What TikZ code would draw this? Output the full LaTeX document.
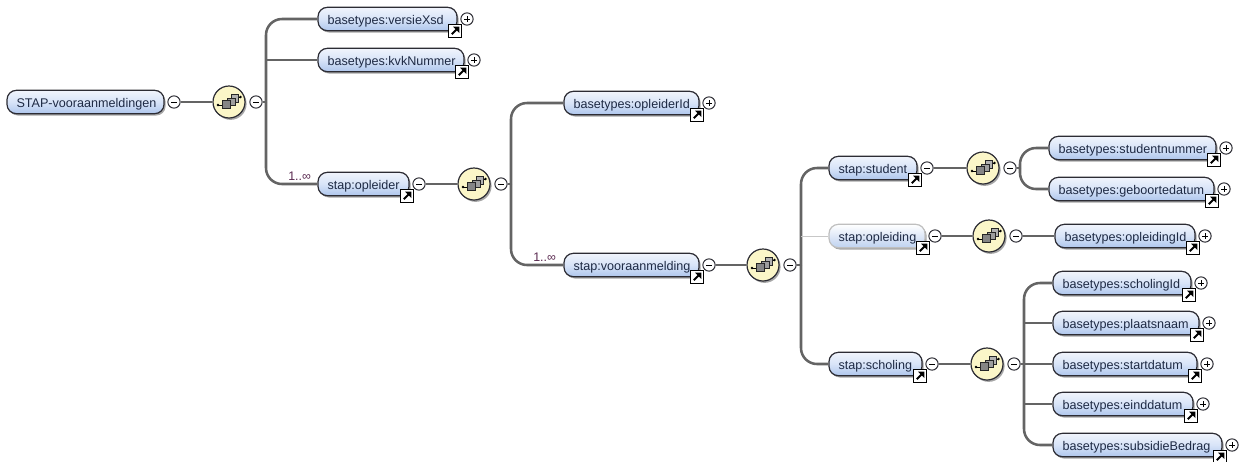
\documentclass[tikz,border=0pt]{standalone}
\usepackage{fontspec}
\setmainfont{Liberation Sans}
\usetikzlibrary{shadows}
\definecolor{wirec}{HTML}{646464}
\definecolor{edgec}{HTML}{2C2C34}
\definecolor{txtc}{HTML}{1E2A44}
\definecolor{multc}{HTML}{5A2A50}
\definecolor{boxtop}{HTML}{F0F4FC}
\definecolor{boxmid}{HTML}{D8E4F8}
\definecolor{boxbot}{HTML}{AEC6EC}
\definecolor{seqfill}{HTML}{FBF6C8}
\tikzset{
  x=0.75pt,y=-0.75pt,
  wire/.style={draw=wirec,line width=1.9pt},
  bendwire/.style={wire,rounded corners=12pt},
  thinwire/.style={draw=black!22,line width=0.5pt},
  elem/.style={draw=edgec,line width=0.9pt,rounded corners=7pt,top color=boxtop,bottom color=boxbot,middle color=boxmid,
    text=txtc,font=\fontsize{9.45pt}{11pt}\selectfont,inner sep=0pt,minimum height=17.5pt,text height=8.5pt,text depth=1pt,align=left,
    drop shadow={shadow xshift=1.2pt,shadow yshift=-1.4pt,fill=black,opacity=0.35}},
  ghost/.style={elem,draw=black!25,top color=white,middle color=boxtop,bottom color=boxbot!80!white},
  signbox/.style={circle,draw=edgec,fill=white,line width=0.75pt,minimum size=9.2pt,inner sep=0pt},
  linkbox/.style={draw=black,fill=white,line width=0.9pt,minimum size=9.2pt,inner sep=0pt,
    path picture={\draw[black,line width=1.4pt] (path picture bounding box.south west)++(2.2pt,2.2pt) -- ++(3.6pt,3.6pt);
      \fill[black] (path picture bounding box.north east)++(-1.3pt,-1.3pt) -- ++(-4.8pt,0pt) -- ++(4.8pt,-4.8pt) -- cycle;}},
  seqc/.style={circle,draw=edgec,fill=seqfill,line width=0.9pt,minimum size=24pt,inner sep=0pt,
    drop shadow={shadow xshift=1.2pt,shadow yshift=-1.4pt,fill=black,opacity=0.35}},
  sq/.style={draw=black!85,line width=0.45pt},
  mult/.style={text=multc,font=\fontsize{9.3pt}{11pt}\selectfont,inner sep=0pt},
}
% \elemnolink{name}{x0}{x1}{yc}{label}{sign}{style}
\newcommand{\elemnolink}[7]{%
  \node[#7,minimum width={(#3-#2)*0.75pt},text width={(#3-#2-19)*0.75pt}] (#1) at ({(#2+#3)/2},#4) {\rlap{#5}};
  \node[signbox] (#1s) at ({#3+10},#4) {};
  \draw[black,line width=0.6pt] ({#3+10-3},#4) -- ({#3+10+3},#4);
  \if#6+\draw[black,line width=0.6pt] ({#3+10},{#4-3}) -- ({#3+10},{#4+3});\fi
}
\newcommand{\elem}[7]{%
  \elemnolink{#1}{#2}{#3}{#4}{#5}{#6}{#7}
  \node[linkbox] (#1l) at ({#3-2},{#4+12}) {};
}
% \seq{name}{x}{y}
\newcommand{\seq}[3]{%
  \node[seqc] (#1) at (#2,#3) {};
  \begin{scope}[shift={(#2,#3)}]
    \draw[black,line width=0.6pt] (-11,3) -- (-6,3) (8,-5) -- (11.5,-5);
    \fill[black] (-11,3) circle (1.1pt) (11.5,-5) circle (1.1pt);
    \draw[sq,fill=black!30] (2,-8) rectangle (9.5,0);
    \draw[sq,fill=black!38] (-2,-4) rectangle (6,3);
    \draw[sq,fill=black!48] (-6.5,-2) rectangle (1.5,6);
  \end{scope}
  \node[signbox] (#1s) at ({#2+27},#3) {};
  \draw[black,line width=0.6pt] ({#2+27-3},#3) -- ({#2+27+3},#3);
}
\begin{document}
\begin{tikzpicture}
\useasboundingbox (0,0) rectangle (1241,461);
\coordinate (t1) at (266,102);
\coordinate (t2) at (511,184);
\coordinate (t3) at (801,265);
\coordinate (t4) at (1020,168);
\coordinate (t5) at (1024,364);

\elemnolink{root}{7}{164}{102}{STAP-vooraanmeldingen}{-}{elem}
\seq{c1}{229}{102}
\elem{versie}{318}{457}{19}{basetypes:versieXsd}{+}{elem}
\elem{kvk}{318}{464}{60}{basetypes:kvkNummer}{+}{elem}
\elem{opleider}{318}{409}{184}{stap:opleider}{-}{elem}
\seq{c2}{474}{184}
\elem{oplid}{564}{699}{103}{basetypes:opleiderId}{+}{elem}
\elem{voor}{564}{699}{265}{stap:vooraanmelding}{-}{elem}
\seq{c3}{763}{265}
\elem{student}{829}{917}{168}{stap:student}{-}{elem}
\seq{c4}{983}{168}
\elem{snr}{1049}{1216}{148}{basetypes:studentnummer}{+}{elem}
\elem{geb}{1049}{1214}{189}{basetypes:geboortedatum}{+}{elem}
\elem{opl}{829}{925}{236}{stap:opleiding}{-}{ghost}
\seq{c5}{989}{236}
\elem{oid}{1055}{1195}{236}{basetypes:opleidingId}{+}{elem}
\elem{sch}{829}{922}{364}{stap:scholing}{-}{elem}
\seq{c6}{987}{364}
\elem{sid}{1053}{1191}{283}{basetypes:scholingId}{+}{elem}
\elem{pln}{1053}{1199}{323}{basetypes:plaatsnaam}{+}{elem}
\elem{std}{1053}{1197}{364}{basetypes:startdatum}{+}{elem}
\elem{eid}{1053}{1193}{404}{basetypes:einddatum}{+}{elem}
\elem{sub}{1053}{1222}{445}{basetypes:subsidieBedrag}{+}{elem}

\draw[wire] (roots) -- (c1);
\draw[wire] (c1s) -- (t1);
\draw[bendwire] (t1) |- (versie.west);
\draw[wire] (t1 |- kvk.west) -- (kvk.west);
\draw[bendwire] (t1) |- (opleider.west);
\draw[wire] (opleiders) -- (c2);
\draw[wire] (c2s) -- (t2);
\draw[bendwire] (t2) |- (oplid.west);
\draw[bendwire] (t2) |- (voor.west);
\draw[wire] (voors) -- (c3);
\draw[wire] (c3s) -- (t3);
\draw[bendwire] (t3) |- (student.west);
\draw[bendwire] (t3) |- (sch.west);
\draw[thinwire] (t3 |- opl.west) -- (opl.west);
\draw[wire] (students) -- (c4);
\draw[wire] (c4s) -- (t4);
\draw[bendwire] (t4) |- (snr.west);
\draw[bendwire] (t4) |- (geb.west);
\draw[wire] (opls) -- (c5);
\draw[wire] (c5s) -- (oid.west);
\draw[wire] (schs) -- (c6);
\draw[wire] (c6s) -- (t5);
\draw[bendwire] (t5) |- (sid.west);
\draw[wire] (t5 |- pln.west) -- (pln.west);
\draw[wire] (t5) -- (std.west);
\draw[wire] (t5 |- eid.west) -- (eid.west);
\draw[bendwire] (t5) |- (sub.west);
\node[mult,anchor=south west] (m1) at (288,181) {1..∞};
\node[mult,anchor=south west] (m2) at (533,262) {1..∞};
\end{tikzpicture}
\end{document}
